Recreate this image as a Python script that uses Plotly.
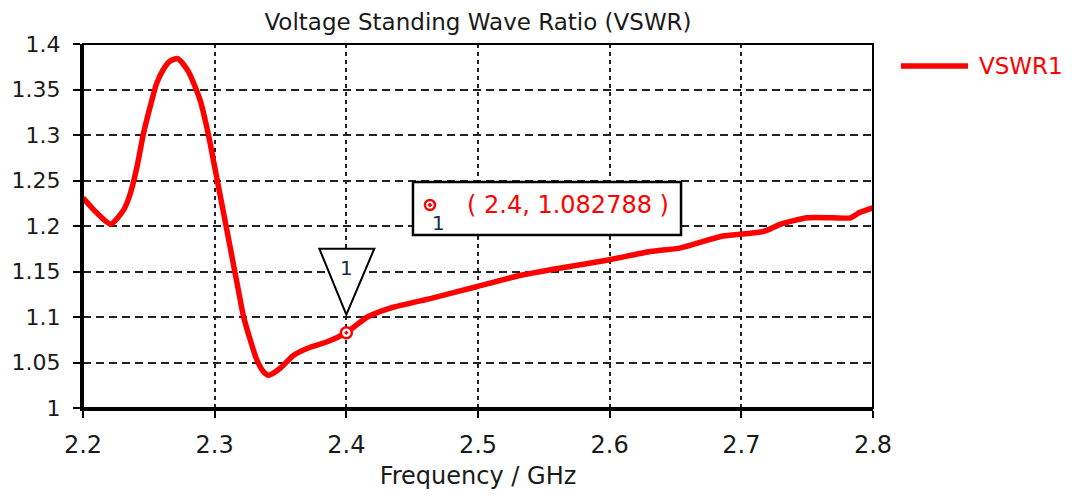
import plotly.graph_objects as go

freq = [2.200, 2.210, 2.221, 2.231, 2.236, 2.241, 2.246, 2.251, 2.256, 2.261,
        2.266, 2.272, 2.280, 2.289, 2.295, 2.300, 2.306, 2.312, 2.317, 2.322,
        2.327, 2.332, 2.337, 2.341, 2.350, 2.360, 2.373, 2.386, 2.400, 2.416,
        2.434, 2.466, 2.498, 2.530, 2.555, 2.580, 2.600, 2.631, 2.654, 2.686,
        2.717, 2.730, 2.750, 2.770, 2.783, 2.790, 2.800]
vswr = [1.231, 1.215, 1.202, 1.218, 1.236, 1.265, 1.302, 1.331, 1.357, 1.372,
        1.381, 1.384, 1.370, 1.338, 1.302, 1.265, 1.220, 1.175, 1.137, 1.100,
        1.075, 1.053, 1.040, 1.036, 1.044, 1.058, 1.067, 1.073, 1.0828, 1.100,
        1.110, 1.121, 1.133, 1.145, 1.152, 1.158, 1.163, 1.172, 1.176, 1.189,
        1.194, 1.202, 1.209, 1.209, 1.209, 1.215, 1.220]

marker_x = 2.4
marker_y = 1.082788
marker_label = "1"
series_name = "VSWR1"

x_ticks = [2.2, 2.3, 2.4, 2.5, 2.6, 2.7, 2.8]
x_ticktext = ["2.2", "2.3", "2.4", "2.5", "2.6", "2.7", "2.8"]
y_ticks = [1.0, 1.05, 1.1, 1.15, 1.2, 1.25, 1.3, 1.35, 1.4]
y_ticktext = ["1", "1.05", "1.1", "1.15", "1.2", "1.25", "1.3", "1.35", "1.4"]

FONT = "DejaVu Sans"
RED = "#ff0000"
INK = "#1a1a1a"
NAVY = "#1b2a4a"

fig = go.Figure()
fig.add_trace(go.Scatter(x=freq, y=vswr, mode="lines", name=series_name,
                         line=dict(color=RED, width=5.5, shape="spline", smoothing=0.6),
                         showlegend=False))
fig.add_trace(go.Scatter(x=[marker_x], y=[marker_y], mode="markers", showlegend=False,
                         marker=dict(symbol="circle-dot", size=11, color="white",
                                     line=dict(color=RED, width=2.5))))

# triangle marker flag
fig.add_shape(type="path", xref="x", yref="y", xsizemode="pixel", ysizemode="pixel",
              xanchor=marker_x, yanchor=marker_y,
              path="M -27 84 L 28 84 L 0 18 Z",
              line=dict(color="black", width=2), fillcolor="white", layer="above")
fig.add_annotation(x=marker_x, y=marker_y, xref="x", yref="y", text=marker_label,
                   showarrow=False, yshift=65, yanchor="middle",
                   font=dict(family=FONT, size=20, color=NAVY))

# marker readout box
fig.add_shape(type="rect", xref="paper", yref="paper",
              x0=0.4177, x1=0.757, y0=0.4753, y1=0.6209,
              line=dict(color="black", width=2.5), fillcolor="white", layer="above")
fig.add_shape(type="circle", xref="paper", yref="paper", xsizemode="pixel", ysizemode="pixel",
              xanchor=0.4392, yanchor=0.5577, x0=-5, x1=5, y0=-5, y1=5,
              line=dict(color=RED, width=2.5), fillcolor="white", layer="above")
fig.add_shape(type="circle", xref="paper", yref="paper", xsizemode="pixel", ysizemode="pixel",
              xanchor=0.4392, yanchor=0.5577, x0=-1.5, x1=1.5, y0=-1.5, y1=1.5,
              line=dict(color=RED, width=1), fillcolor=RED, layer="above")
fig.add_annotation(xref="paper", yref="paper", x=0.4835, y=0.5577,
                   text="( %s, %s )" % (marker_x, marker_y), showarrow=False,
                   xanchor="left", yanchor="middle",
                   font=dict(family=FONT, size=24, color=RED))
fig.add_annotation(xref="paper", yref="paper", x=0.4494, y=0.5096,
                   text=marker_label, showarrow=False, xanchor="center", yanchor="middle",
                   font=dict(family=FONT, size=20, color=NAVY))

# manual legend
fig.add_shape(type="line", xref="paper", yref="paper", x0=1.0354, x1=1.1203,
              y0=0.9394, y1=0.9394, line=dict(color=RED, width=5.5))
fig.add_annotation(xref="paper", yref="paper", x=1.1316, y=0.9394,
                   xanchor="left", yanchor="middle",
                   text=series_name, showarrow=False, font=dict(family=FONT, size=23, color=RED))

# plot border (top/right)
fig.add_shape(type="rect", xref="paper", yref="paper", x0=0, x1=1, y0=0, y1=1,
              line=dict(color="black", width=2), layer="above")

fig.update_layout(
    width=1064, height=488,
    margin=dict(l=75, r=199, t=36, b=88, autoexpand=False),
    paper_bgcolor="white", plot_bgcolor="white",
    font=dict(family=FONT, size=20, color=INK),
    title=dict(text="Voltage Standing Wave Ratio (VSWR)", x=0.5, xref="paper",
               y=0.9713, yref="container", yanchor="middle",
               font=dict(family=FONT, size=23, color=INK)),
    xaxis=dict(range=[2.2, 2.8], tickvals=x_ticks, ticktext=x_ticktext,
               showgrid=True, gridcolor="#222", gridwidth=2, griddash="4px,4px",
               showline=True, linecolor="black", linewidth=3, zeroline=False,
               ticks="outside", ticklen=7, tickwidth=2, tickcolor="black",
               ticklabelstandoff=6,
               tickfont=dict(family=FONT, size=24, color=INK),
               title=dict(text="Frequency / GHz", font=dict(family=FONT, size=24, color=INK), standoff=10)),
    yaxis=dict(range=[1.0, 1.4], tickvals=y_ticks, ticktext=y_ticktext,
               showgrid=True, gridcolor="#222", gridwidth=2, griddash="8px,5px",
               showline=True, linecolor="black", linewidth=3, zeroline=False,
               ticks="outside", ticklen=7, tickwidth=2, tickcolor="black",
               ticklabelstandoff=8,
               tickfont=dict(family=FONT, size=22, color=INK)),
)

fig.write_html("out.html")
